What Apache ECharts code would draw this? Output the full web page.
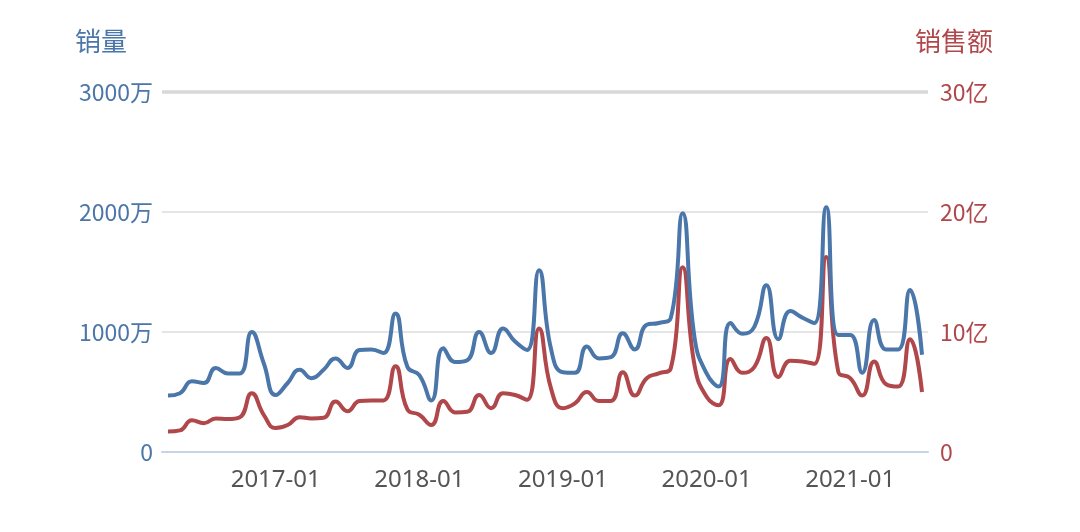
<!DOCTYPE html>
<html>
<head>
<meta charset="utf-8">
<style>
  html, body { margin: 0; padding: 0; background: #fff; }
  #main { width: 1080px; height: 532px; }
</style>
<script src="https://cdn.jsdelivr.net/npm/echarts@6/dist/echarts.min.js"></script>
</head>
<body>
<div id="main"></div>
<script>
// 月份
var months = [
  '2016-04', '2016-05', '2016-06', '2016-07', '2016-08', '2016-09', '2016-10', '2016-11', '2016-12',
  '2017-01', '2017-02', '2017-03', '2017-04', '2017-05', '2017-06', '2017-07', '2017-08', '2017-09', '2017-10', '2017-11', '2017-12',
  '2018-01', '2018-02', '2018-03', '2018-04', '2018-05', '2018-06', '2018-07', '2018-08', '2018-09', '2018-10', '2018-11', '2018-12',
  '2019-01', '2019-02', '2019-03', '2019-04', '2019-05', '2019-06', '2019-07', '2019-08', '2019-09', '2019-10', '2019-11', '2019-12',
  '2020-01', '2020-02', '2020-03', '2020-04', '2020-05', '2020-06', '2020-07', '2020-08', '2020-09', '2020-10', '2020-11', '2020-12',
  '2021-01', '2021-02', '2021-03', '2021-04', '2021-05', '2021-06', '2021-07'
]
// 销量（万）
var salesVolume = [
  470, 490, 590, 575, 700, 655, 655, 1000, 740,
  475, 575, 685, 615, 685, 780, 700, 850, 855, 825, 1155, 710,
  640, 430, 865, 750, 765, 1000, 825, 1030, 920, 850, 1515, 860,
  665, 660, 880, 780, 790, 990, 855, 1060, 1075, 1115, 1990, 950,
  655, 545, 1075, 985, 1045, 1390, 940, 1175, 1120, 1075, 2040, 975,
  975, 660, 1100, 855, 855, 1350, 810
]
// 销售额（亿）
var salesAmount = [
  1.7, 1.8, 2.65, 2.4, 2.8, 2.75, 2.9, 4.9, 3.1,
  2.0, 2.25, 2.9, 2.8, 2.85, 4.2, 3.4, 4.25, 4.3, 4.3, 7.15, 3.55,
  3.1, 2.25, 4.25, 3.3, 3.35, 4.75, 3.65, 4.9, 4.75, 4.35, 10.3, 5.3,
  3.65, 4.05, 5.0, 4.25, 4.25, 6.65, 4.7, 6.15, 6.55, 6.95, 15.4, 7.2,
  4.6, 3.9, 7.75, 6.6, 7.1, 9.5, 6.25, 7.6, 7.55, 7.35, 16.25, 6.7,
  6.15, 4.7, 7.55, 5.65, 5.45, 9.4, 5.0
]

var blue = '#4a76a9'
var red = '#b0474a'
var isJan = function (index, value) {
  return value.slice(5) === '01'
}

var myChart = echarts.init(document.getElementById('main'))
myChart.setOption({
  animation: false,
  grid: {
    left: 162,
    right: 152,
    top: 92,
    bottom: 80
  },
  xAxis: {
    type: 'category',
    boundaryGap: true,
    data: months,
    axisLine: {
      lineStyle: { color: '#c6d5e6', width: 2 }
    },
    axisTick: {
      alignWithLabel: true,
      interval: isJan,
      length: 12,
      lineStyle: { color: '#c6d5e6', width: 2 }
    },
    axisLabel: {
      interval: isJan,
      margin: 16,
      color: '#555',
      fontSize: 24,
      fontFamily: 'Noto Sans, sans-serif'
    },
    splitLine: { show: false }
  },
  yAxis: [{
    type: 'value',
    name: '销量',
    nameLocation: 'end',
    nameGap: 38,
    nameTextStyle: {
      color: blue,
      fontSize: 26,
      fontFamily: 'Noto Sans CJK SC',
      align: 'right',
      padding: [0, 35, 0, 0]
    },
    min: 0,
    max: 3000,
    interval: 1000,
    axisLine: { show: false },
    axisTick: { show: false },
    axisLabel: {
      color: blue,
      fontSize: 23,
      margin: 9,
      fontFamily: 'Noto Sans CJK SC',
      formatter: function (v) { return v === 0 ? '0' : v + '万' }
    },
    splitLine: {
      lineStyle: { color: '#dcdcdc', width: 1.5 }
    }
  }, {
    type: 'value',
    name: '销售额',
    nameLocation: 'end',
    nameGap: 38,
    nameTextStyle: {
      color: red,
      fontSize: 26,
      fontFamily: 'Noto Sans CJK SC',
      align: 'center',
      padding: [0, 0, 0, 52]
    },
    min: 0,
    max: 30,
    interval: 10,
    axisLine: { show: false },
    axisTick: { show: false },
    axisLabel: {
      color: red,
      fontSize: 23,
      margin: 12,
      fontFamily: 'Noto Sans CJK SC',
      formatter: function (v) { return v === 0 ? '0' : v + '亿' }
    },
    splitLine: { show: false }
  }],
  series: [{
    name: '销量',
    type: 'line',
    smooth: true,
    symbol: 'none',
    yAxisIndex: 0,
    lineStyle: { color: blue, width: 4 },
    itemStyle: { color: blue },
    data: salesVolume,
    z: 3,
    markLine: {
      silent: true,
      symbol: 'none',
      label: { show: false },
      lineStyle: { color: '#d8d8d8', width: 3.5, type: 'solid' },
      data: [{ yAxis: 3000 }]
    }
  }, {
    name: '销售额',
    type: 'line',
    smooth: true,
    symbol: 'none',
    yAxisIndex: 1,
    lineStyle: { color: red, width: 4 },
    itemStyle: { color: red },
    data: salesAmount,
    z: 2
  }]
})
window.addEventListener('resize', function () {
  myChart.resize()
})
</script>
</body>
</html>
